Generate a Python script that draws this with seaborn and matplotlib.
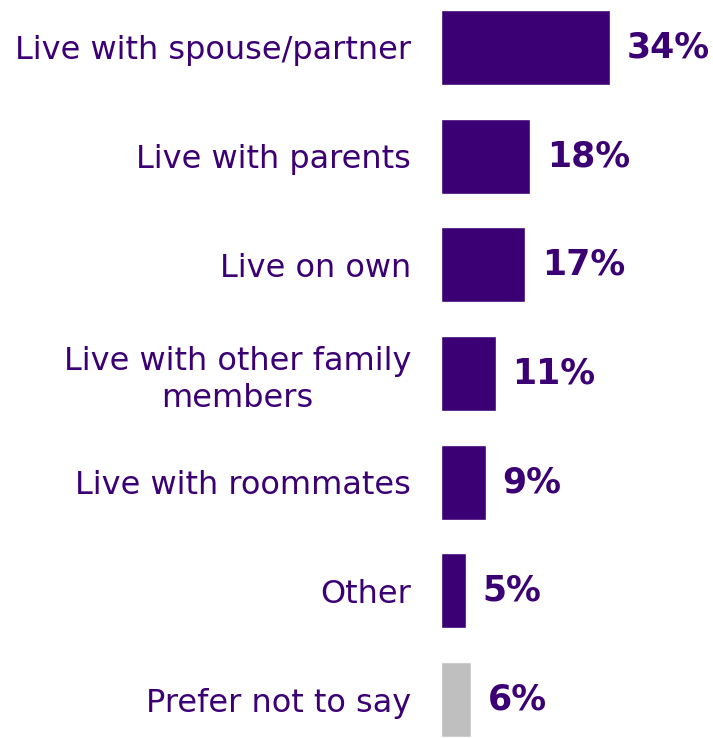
import matplotlib
matplotlib.use("Agg")
import matplotlib.pyplot as plt
import seaborn as sns
import pandas as pd

categories = ["Live with spouse/partner", "Live with parents", "Live on own",
              "Live with other family\nmembers", "Live with roommates", "Other",
              "Prefer not to say"]
values = [34, 18, 17, 11, 9, 5, 6]
bar_colors = ["#3C0075"] * 6 + ["#BFBFBF"]

purple = "#3C0075"

sns.set_style("white")
plt.rcParams["font.family"] = ["DejaVu Sans"]

data = pd.DataFrame({"category": categories, "value": values})

fig = plt.figure(figsize=(7.13, 7.38), dpi=100)
ax = fig.add_axes([441 / 713, 0, 1 - 441 / 713, 1])

sns.barplot(data=data, x="value", y="category", hue="category",
            palette=bar_colors, legend=False, width=0.69, orient="h",
            saturation=1, ax=ax)

ax.set_xlim(0, 54.8)
ax.set_ylim(6.353, -0.437)

for i, v in enumerate(values):
    ax.text(v + 3.4, i, f"{v}%", va="center", ha="left", fontsize=25,
            fontweight="bold", color=purple)

ax.set_xlabel("")
ax.set_ylabel("")
ax.set_xticks([])
ax.tick_params(axis="y", length=0, pad=21.6, labelsize=23, labelcolor=purple)
for lab in ax.get_yticklabels():
    lab.set_multialignment("center")
    lab.set_linespacing(1.25)
sns.despine(ax=ax, left=True, bottom=True)

fig.savefig("out.png", dpi=100)
